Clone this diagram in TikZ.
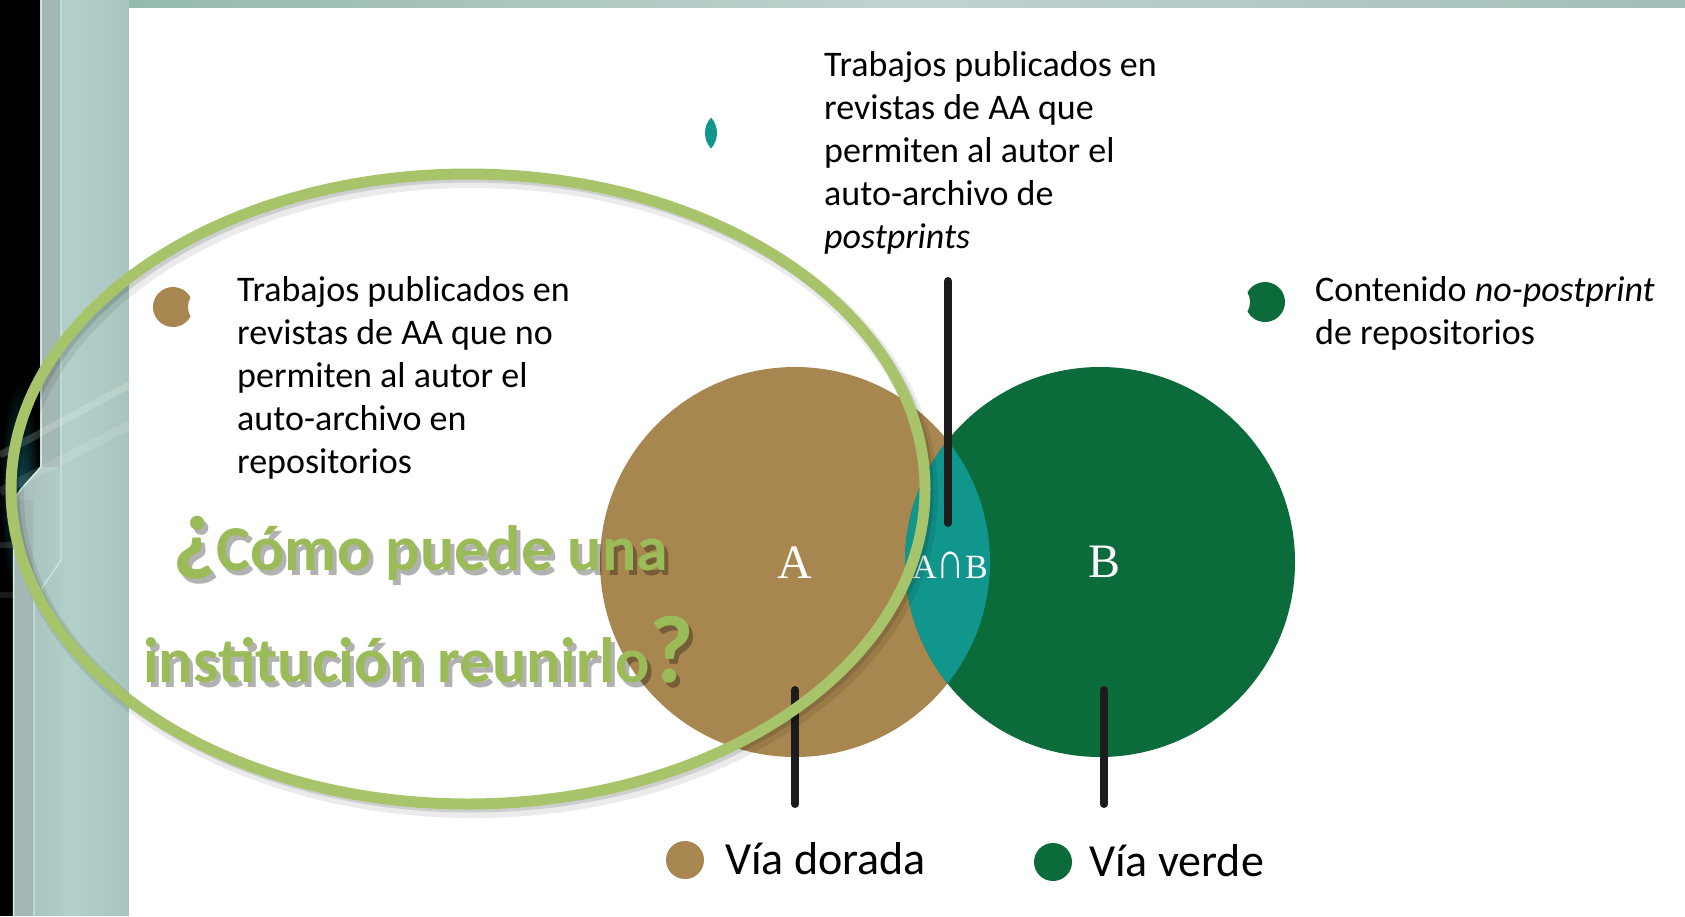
\documentclass[tikz,border=0pt]{standalone}
\usepackage{fontspec}
\setmainfont{Carlito}
\newfontfamily\serifL{Liberation Serif}
\definecolor{gold}{HTML}{A8864F}
\definecolor{vgreen}{HTML}{0B6B3A}
\definecolor{lens}{HTML}{11968E}
\definecolor{olive}{HTML}{9BBB59}
\definecolor{ring}{HTML}{A7C46B}
\definecolor{ink}{HTML}{1C1C1C}
\definecolor{stripL}{HTML}{95B9AE}
\definecolor{stripM}{HTML}{C0D3D0}
\definecolor{stripR}{HTML}{A2BEB8}
\definecolor{panelA}{HTML}{A7BDBA}
\definecolor{panelB}{HTML}{B2D0CA}
\definecolor{panelC}{HTML}{A8C4BE}
\definecolor{edgeL}{HTML}{D3ECEA}
\definecolor{glow}{HTML}{0F4F55}
\begin{document}
\begin{tikzpicture}[x=1pt,y=-1pt,
  body/.style={font=\fontsize{36}{43}\selectfont, anchor=base west, align=left, inner sep=0, text=black},
  leg/.style={font=\fontsize{46}{50}\selectfont, anchor=base west, inner sep=0, text=black},
  vline/.style={ink, line width=8, line cap=round},
  qtext/.style={font=\bfseries, anchor=base west, inner sep=0, text=olive},
  qshadow/.style={font=\bfseries, anchor=base west, inner sep=0, text=black, opacity=0.3},
  circlbl/.style={text=white, inner sep=0}
]
\useasboundingbox (0,0) rectangle (1685,916);
% ---------- background ----------
\fill[black] (0,0) rectangle (129,916);
\shade[inner color=glow, outer color=black] (0,380) rectangle (40,600);
\shade[left color=panelA, right color=panelC, middle color=panelB]
  (40,0) -- (129,0) -- (129,916) -- (13,916) -- (13,500) -- (22,488) -- (40,467) -- cycle;
\fill[panelA!90!gray] (42,0) rectangle (60,467);
\fill[panelA!90!gray] (15,500) rectangle (33,916);
\draw[edgeL, line width=1.5] (41,0) -- (41,467) -- (22,488) -- (13.5,500) -- (13.5,916);
\draw[edgeL, line width=1] (61,0) -- (61,560) -- (34,600) -- (34,916);
\draw[white, opacity=0.18, line width=7] (0,455) -- (129,385);
\draw[white, opacity=0.12, line width=9] (0,492) -- (129,425);
\draw[white, opacity=0.12, line width=6] (0,545) -- (13,545);
\draw[white, opacity=0.10, line width=6] (0,595) -- (13,595);
\shade[left color=stripL, right color=stripR, middle color=stripM] (129,0) rectangle (1685,8);
\fill[white] (129,8) rectangle (1685,916);
% ---------- Venn circles ----------
\fill[gold] (795,562) circle[radius=195];
\fill[vgreen] (1100,562) circle[radius=195];
\begin{scope}
  \clip (795,562) circle[radius=195];
  \fill[lens] (1100,562) circle[radius=195];
\end{scope}
\node[circlbl, font=\serifL\fontsize{48}{48}\selectfont] (labA) at (795,563) {A};
\node[circlbl, font=\serifL\fontsize{48}{48}\selectfont] (labB) at (1104,562) {B};
\node[circlbl, font=\serifL\fontsize{34}{34}\selectfont] (labAB) at (950,565) {A\scalebox{1.15}[1.55]{∩}B};
% ---------- leader lines ----------
\coordinate (topT) at (948,281);
\coordinate (topB) at (948,523);
\coordinate (aT) at (795,690);
\coordinate (aB) at (795,804);
\coordinate (bT) at (1104,690);
\coordinate (bB) at (1104,804);
\draw[vline] (topT) -- (topB);
\draw[vline] (aT) -- (aB);
\draw[vline] (bT) -- (bB);
% ---------- legend icons ----------
\fill[lens] (711,117.5) arc[start angle=222.36, end angle=137.64, radius=23]
  arc[start angle=42.36, end angle=-42.36, radius=23] -- cycle;
\fill[gold] (190.5,297.32) arc[start angle=-28.95, end angle=-331.05, radius=20]
  arc[start angle=151.05, end angle=208.95, radius=20] -- cycle;
\fill[vgreen] (1247.5,292.32) arc[start angle=208.95, end angle=511.05, radius=20]
  arc[start angle=28.95, end angle=-28.95, radius=20] -- cycle;
% ---------- text blocks (anchored at the baseline of the last line) ----------
\node[body] (tTop) at (824,248) {Trabajos publicados en\\revistas de AA que\\permiten al autor el\\auto-archivo de\\\textit{postprints}};
\node[body] (tLeft) at (237,473) {Trabajos publicados en\\revistas de AA que no\\permiten al autor el\\auto-archivo en\\repositorios};
\node[body] (tRight) at (1315,344) {Contenido \textit{no-postprint}\\de repositorios};
% ---------- bottom legend ----------
\fill[gold] (685,860) circle[radius=19];
\node[leg] (lgA) at (725,874) {Vía dorada};
\fill[vgreen] (1053,862) circle[radius=19];
\node[leg] (lgB) at (1089,876) {Vía verde};
% ---------- ellipse with shadow ----------
\draw[black, opacity=0.08, line width=16] (473,495) ellipse[x radius=457, y radius=315];
\draw[black, opacity=0.12, line width=11] (471,492) ellipse[x radius=457, y radius=315];
\draw[ring, line width=11] (468,489) ellipse[x radius=457, y radius=315];
% ---------- question ----------
\node[qshadow] (qs1) at (176,575) {{\fontsize{96}{96}\selectfont\raisebox{7pt}{¿}}\fontsize{64}{64}\selectfont Cómo puede una};
\node[qshadow] (qs2) at (147,687) {\fontsize{64}{64}\selectfont institución reunirlo{\fontsize{96}{96}\selectfont ?}};
\node[qtext] (q1) at (172,570) {{\fontsize{96}{96}\selectfont\raisebox{7pt}{¿}}\fontsize{64}{64}\selectfont Cómo puede una};
\node[qtext] (q2) at (143,682) {\fontsize{64}{64}\selectfont institución reunirlo{\fontsize{96}{96}\selectfont ?}};
\end{tikzpicture}
\end{document}
